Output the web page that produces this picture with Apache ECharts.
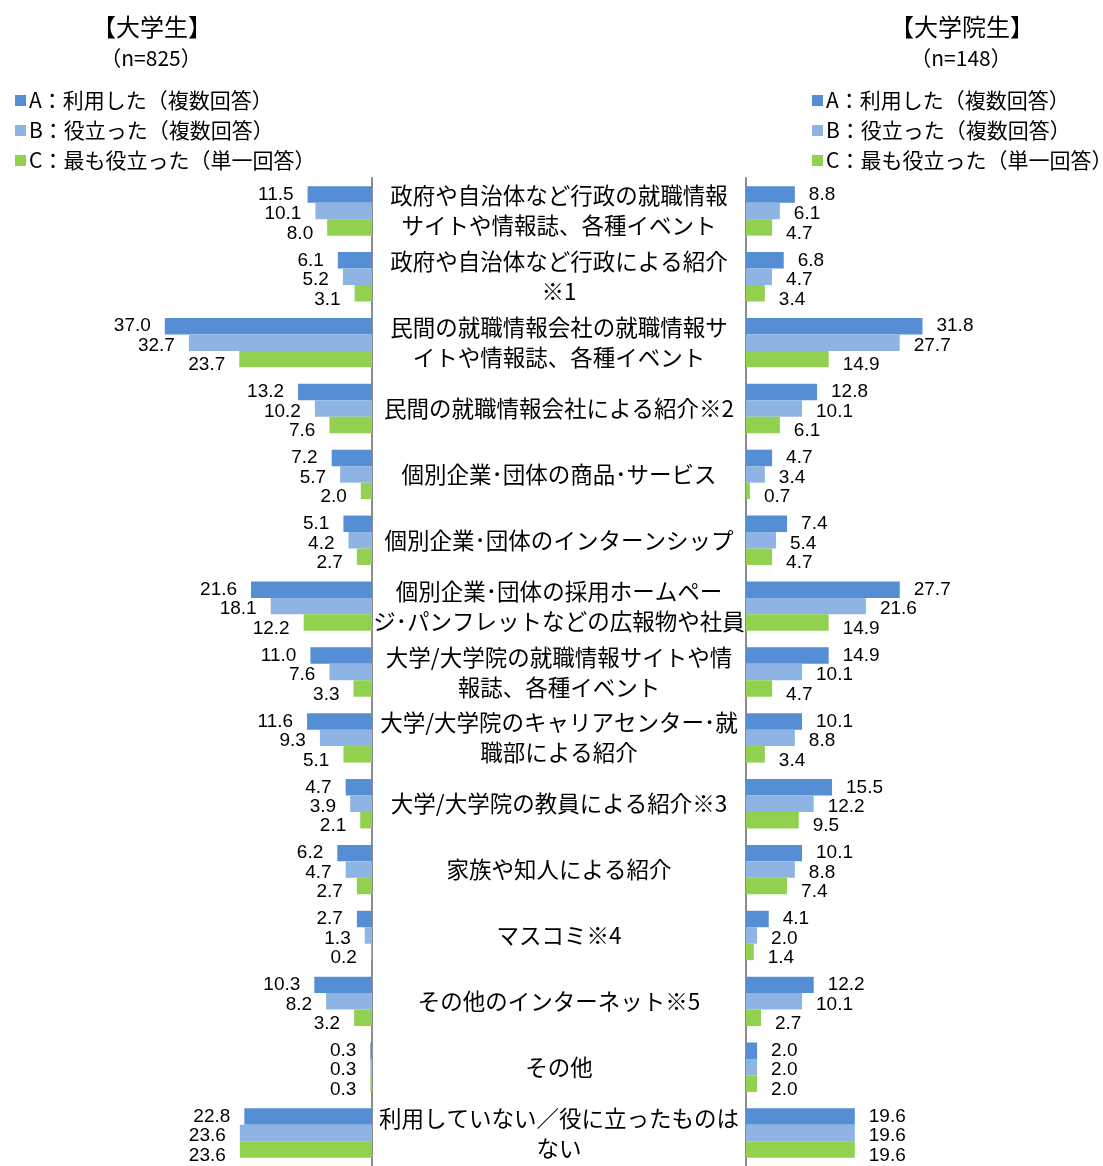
<!DOCTYPE html>
<html>
<head>
<meta charset="utf-8">
<script src="https://cdn.jsdelivr.net/npm/echarts@6/dist/echarts.min.js"></script>
<style>
  html, body { margin: 0; padding: 0; background: #fff; }
  #chart { width: 1103px; height: 1166px; }
</style>
</head>
<body>
<div id="chart"></div>
<script>
var categories = [
    '政府や自治体など行政の就職情報\nサイトや情報誌、各種イベント',
    '政府や自治体など行政による紹介\n※1',
    '民間の就職情報会社の就職情報サ\nイトや情報誌、各種イベント',
    '民間の就職情報会社による紹介※2',
    '個別企業･団体の商品･サービス',
    '個別企業･団体のインターンシップ',
    '個別企業･団体の採用ホームペー\nジ･パンフレットなどの広報物や社員',
    '大学/大学院の就職情報サイトや情\n報誌、各種イベント',
    '大学/大学院のキャリアセンター･就\n職部による紹介',
    '大学/大学院の教員による紹介※3',
    '家族や知人による紹介',
    'マスコミ※4',
    'その他のインターネット※5',
    'その他',
    '利用していない／役に立ったものは\nない'
];
var seriesNames = ['A：利用した（複数回答）', 'B：役立った（複数回答）', 'C：最も役立った（単一回答）'];
var colors = ['#558ed5', '#8eb4e3', '#92d050'];

// 大学生 (n=825)
var ugA = [11.5, 6.1, 37.0, 13.2, 7.2, 5.1, 21.6, 11.0, 11.6, 4.7, 6.2, 2.7, 10.3, 0.3, 22.8];
var ugB = [10.1, 5.2, 32.7, 10.2, 5.7, 4.2, 18.1, 7.6, 9.3, 3.9, 4.7, 1.3, 8.2, 0.3, 23.6];
var ugC = [8.0, 3.1, 23.7, 7.6, 2.0, 2.7, 12.2, 3.3, 5.1, 2.1, 2.7, 0.2, 3.2, 0.3, 23.6];
// 大学院生 (n=148)
var grA = [8.8, 6.8, 31.8, 12.8, 4.7, 7.4, 27.7, 14.9, 10.1, 15.5, 10.1, 4.1, 12.2, 2.0, 19.6];
var grB = [6.1, 4.7, 27.7, 10.1, 3.4, 5.4, 21.6, 10.1, 8.8, 12.2, 8.8, 2.0, 10.1, 2.0, 19.6];
var grC = [4.7, 3.4, 14.9, 6.1, 0.7, 4.7, 14.9, 4.7, 3.4, 9.5, 7.4, 1.4, 2.7, 2.0, 19.6];

var numFont = '"Liberation Sans", Arial, sans-serif';
var jpFont = '"Noto Sans CJK JP", "Noto Sans", sans-serif';
var axisColor = '#8c8c8c';
var labelShift = [0, 3, 6];

function makeSeries(idx, data, side) {
    var left = side === 0;
    return {
        name: seriesNames[idx],
        type: 'bar',
        xAxisIndex: side,
        yAxisIndex: side,
        data: data,
        barGap: '0%',
        barCategoryGap: '25%',
        itemStyle: { color: colors[idx] },
        label: {
            show: true,
            position: left ? 'left' : 'right',
            distance: 14,
            offset: [0, labelShift[idx]],
            formatter: function (p) { return p.value.toFixed(1); },
            fontSize: 19,
            color: '#000',
            fontFamily: numFont
        }
    };
}

var myChart = echarts.init(document.getElementById('chart'));
var legendBase = {
    orient: 'vertical',
    top: 85,
    itemWidth: 11,
    itemHeight: 11,
    itemGap: 9,
    icon: 'rect',
    data: seriesNames,
    textStyle: { fontSize: 21, color: '#000', fontFamily: jpFont, lineHeight: 21, padding: [0, 0, 0, -2] }
};
var option = {
    animation: false,
    backgroundColor: '#fff',
    legend: [
        Object.assign({ left: 10 }, legendBase),
        Object.assign({ left: 807 }, legendBase)
    ],
    graphic: [
        { type: 'text', x: 152, y: 27, style: { text: '【大学生】', fontSize: 24, fontFamily: jpFont, fill: '#000', align: 'center', verticalAlign: 'middle' } },
        { type: 'text', x: 151, y: 58, style: { text: '（n=825）', fontSize: 21, fontFamily: jpFont, fill: '#000', align: 'center', verticalAlign: 'middle' } },
        { type: 'text', x: 962, y: 27, style: { text: '【大学院生】', fontSize: 24, fontFamily: jpFont, fill: '#000', align: 'center', verticalAlign: 'middle' } },
        { type: 'text', x: 961, y: 58, style: { text: '（n=148）', fontSize: 21, fontFamily: jpFont, fill: '#000', align: 'center', verticalAlign: 'middle' } }
    ],
    grid: [
        { left: 148, width: 224, top: 178, height: 988 },
        { left: 746, width: 222, top: 178, height: 988 }
    ],
    xAxis: [
        { gridIndex: 0, type: 'value', inverse: true, min: 0, max: 40, show: false },
        { gridIndex: 1, type: 'value', min: 0, max: 40, show: false }
    ],
    yAxis: [
        {
            gridIndex: 0, type: 'category', data: categories, inverse: true, position: 'right',
            axisLine: { onZero: false, lineStyle: { color: axisColor, width: 2 } },
            axisTick: { inside: true, length: 5, lineStyle: { color: axisColor, width: 2 } },
            axisLabel: {
                interval: 0, margin: 187, align: 'center', fontSize: 22.5, lineHeight: 30,
                color: '#000', fontFamily: jpFont
            }
        },
        {
            gridIndex: 1, type: 'category', data: categories, inverse: true, position: 'left',
            axisLine: { onZero: false, lineStyle: { color: axisColor, width: 2 } },
            axisTick: { inside: true, length: 5, lineStyle: { color: axisColor, width: 2 } },
            axisLabel: { show: false }
        }
    ],
    series: [
        makeSeries(0, ugA, 0),
        makeSeries(1, ugB, 0),
        makeSeries(2, ugC, 0),
        makeSeries(0, grA, 1),
        makeSeries(1, grB, 1),
        makeSeries(2, grC, 1)
    ]
};
myChart.setOption(option);
</script>
</body>
</html>
